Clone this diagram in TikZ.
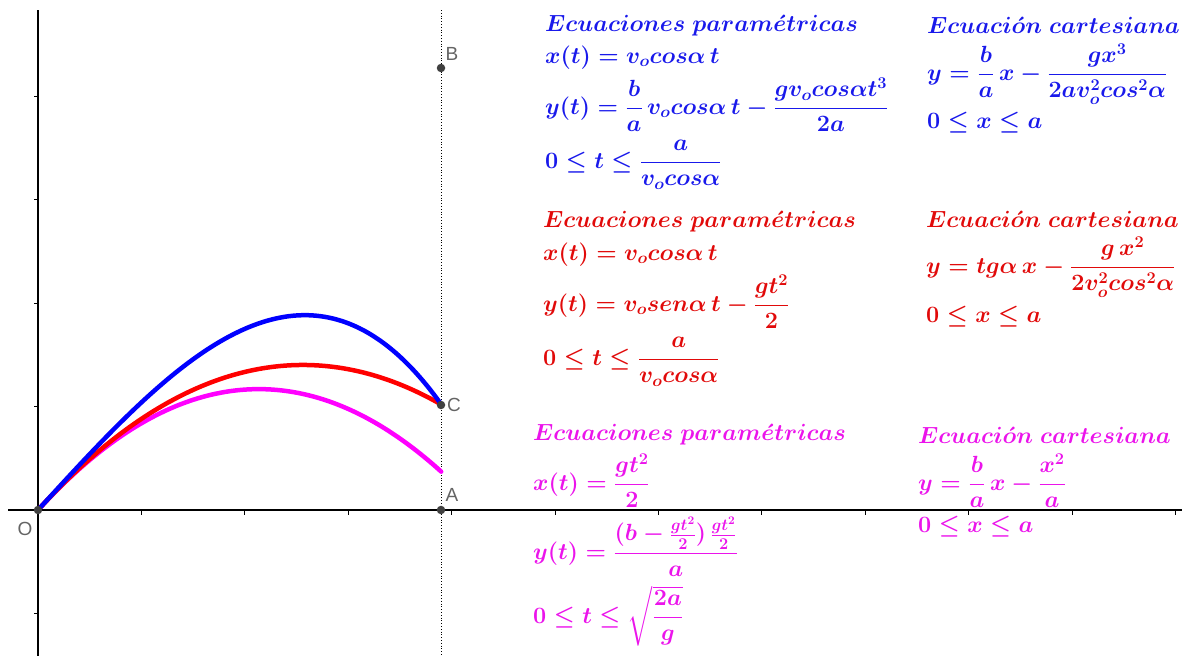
\RequirePackage{fix-cm}
\documentclass[tikz,border=0pt]{standalone}
\usepackage{fontspec}
\usepackage{amsmath}
\newfontfamily\labfont{Liberation Sans}
\definecolor{eqblue}{RGB}{25,25,235}
\definecolor{eqred}{RGB}{225,10,10}
\definecolor{eqmag}{RGB}{235,20,235}
\definecolor{ptgray}{RGB}{64,64,64}
\definecolor{labgray}{RGB}{100,100,100}
\begin{document}
\begin{tikzpicture}[x=1pt,y=-1pt,
  eq/.style={anchor=base west,inner sep=0pt,font=\fontsize{23.4}{27}\selectfont\boldmath},
  pt/.style={circle,fill=ptgray,inner sep=0pt,minimum size=8.5pt},
  lab/.style={text=labgray,font=\labfont\fontsize{19}{19}\selectfont,inner sep=0pt},
  axis/.style={line width=1.2pt,black},
  tick/.style={line width=0.9pt,black},
  curve/.style={line width=4.5pt,line cap=round}]
\useasboundingbox (0,0) rectangle (1182,656);
% axes
\coordinate (xl) at (8,510); \coordinate (xr) at (1182,510);
\coordinate (yt) at (38,10); \coordinate (yb) at (38,656);
\draw[axis] (xl) -- (xr);
\draw[axis] (yt) -- (yb);
\foreach \k in {1,...,11} \draw[tick] ({38+103.4*\k},510) -- ++(0,4.5);
\foreach \k in {-1,1,2,3,4} \draw[tick] (38,{510-103.4*\k}) -- ++(-4.5,0);
% dotted line
\coordinate (dt) at (441,10); \coordinate (db) at (441,656);
\draw[dotted,line width=0.8pt] (dt) -- (db);
% curves
\draw[curve,color={rgb,255:red,255;green,0;blue,255}] plot[domain=0:3.9,samples=80,smooth] ({38+103.4*\x},{510-103.4*(1.095*\x-\x*\x/3.9)});
\draw[curve,color={rgb,255:red,255;green,0;blue,0}] plot[domain=0:3.9,samples=80,smooth] ({38+103.4*\x},{510-103.4*(1.095*\x-0.2137*\x*\x)});
\draw[curve,color={rgb,255:red,0;green,0;blue,255}] plot[domain=0:3.9,samples=80,smooth] ({38+103.4*\x},{510-103.4*(1.095*\x-0.0548*\x*\x*\x)});
% points
\node[pt] (O) at (38,510) {};
\node[pt] (A) at (441,510) {};
\node[pt] (B) at (441,68) {};
\node[pt] (C) at (441,405) {};
\node[lab] (lO) at (25,529) {O};
\node[lab] (lA) at (452,495) {A};
\node[lab] (lB) at (452,54) {B};
\node[lab] (lC) at (454,405) {C};
% blue equations
\node[eq,text=eqblue] (b1) at (545,31) {$Ecuaciones\ param\acute{e}tricas$};
\node[eq,text=eqblue] (b2) at (545,63) {$x(t)=v_ocos\alpha\,t$};
\node[eq,text=eqblue] (b3) at (545,114) {$y(t)=\dfrac{b}{a}\,v_ocos\alpha\,t-\dfrac{gv_ocos\alpha t^3}{2a}$};
\node[eq,text=eqblue] (b4) at (545,168) {$0\le t\le\dfrac{a}{v_ocos\alpha}$};
\node[eq,text=eqblue] (bc1) at (927,33) {$Ecuaci\acute{o}n\ cartesiana$};
\node[eq,text=eqblue] (bc2) at (927,80) {$y=\dfrac{b}{a}\,x-\dfrac{gx^3}{2av_o^2cos^2\alpha}$};
\node[eq,text=eqblue] (bc3) at (927,128) {$0\le x\le a$};
% red equations
\node[eq,text=eqred] (r1) at (543,227) {$Ecuaciones\ param\acute{e}tricas$};
\node[eq,text=eqred] (r2) at (543,260) {$x(t)=v_ocos\alpha\,t$};
\node[eq,text=eqred] (r3) at (543,311) {$y(t)=v_osen\alpha\,t-\dfrac{gt^2}{2}$};
\node[eq,text=eqred] (r4) at (543,365) {$0\le t\le\dfrac{a}{v_ocos\alpha}$};
\node[eq,text=eqred] (rc1) at (926,227) {$Ecuaci\acute{o}n\ cartesiana$};
\node[eq,text=eqred] (rc2) at (926,273) {$y=tg\alpha\,x-\dfrac{g\,x^2}{2v_o^2cos^2\alpha}$};
\node[eq,text=eqred] (rc3) at (926,322) {$0\le x\le a$};
% magenta equations
\node[eq,text=eqmag] (m1) at (533,440) {$Ecuaciones\ param\acute{e}tricas$};
\node[eq,text=eqmag] (m2) at (533,490) {$x(t)=\dfrac{gt^2}{2}$};
\node[eq,text=eqmag] (m3) at (533,559) {$y(t)=\dfrac{(b-\frac{gt^2}{2})\,\frac{gt^2}{2}}{a}$};
\node[eq,text=eqmag] (m4) at (533,623) {$0\le t\le\sqrt{\dfrac{2a}{g}}$};
\node[eq,text=eqmag] (mc1) at (918,443) {$Ecuaci\acute{o}n\ cartesiana$};
\node[eq,text=eqmag] (mc2) at (918,490) {$y=\dfrac{b}{a}\,x-\dfrac{x^2}{a}$};
\node[eq,text=eqmag] (mc3) at (918,532) {$0\le x\le a$};
\end{tikzpicture}
\end{document}
